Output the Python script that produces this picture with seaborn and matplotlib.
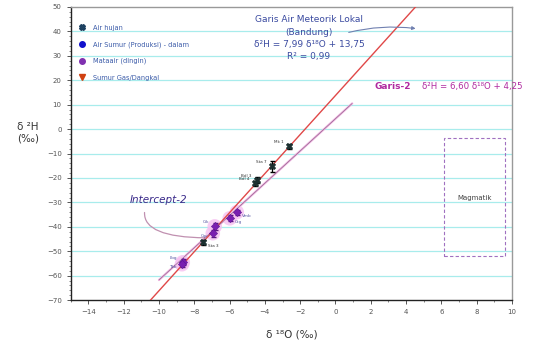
import numpy as np
import pandas as pd
import matplotlib
matplotlib.use("Agg")
import matplotlib.pyplot as plt
from matplotlib.patches import Rectangle
from matplotlib.ticker import MultipleLocator
import seaborn as sns

sns.set_theme(style="white")
plt.rcParams['font.family'] = ['DejaVu Sans']

# ---- data ----
hujan_x = [-2.64, -3.6, -4.46, -4.57, -7.52]
hujan_y = [-7.0, -15.2, -20.9, -22.1, -46.3]
hujan_err = [1.0, 2.2, 1.2, 1.0, 1.0]
hujan_lbl = ["Mk 1", "Sta 7", "Bdl 3", "Bdl 4", "Sta 3"]
hujan_side = ["l", "l", "l", "l", "r"]

mata_x = [-5.59, -5.99, -6.84, -6.95, -8.65, -8.7]
mata_y = [-34.0, -36.5, -39.8, -42.6, -54.5, -55.3]
mata_err = [1.0, 1.2, 1.5, 1.5, 1.2, 1.2]
mata_lbl = ["Vmb", "Ctg", "Cik", "Cip", "Lbg", "Tkb"]
mata_side = ["r", "r", "l", "l", "l", "l"]

gmwl_slope, gmwl_icpt = 7.99, 13.75
g2_slope, g2_icpt = 6.60, 4.25
g2_range = [-10.0, 0.95]

mag_x = [6.15, 9.6]
mag_y = [-52.0, -3.7]

xticks = [-14, -12, -10, -8, -6, -4, -2, 0, 2, 4, 6, 8, 10]
yticks = [50, 40, 30, 20, 10, 0, -10, -20, -30, -40, -50, -60, -70]

legend_names = ["Air hujan", "Air Sumur (Produksi) - dalam", "Mataair (dingin)", "Sumur Gas/Dangkal"]

# ---- figure ----
fig = plt.figure(figsize=(5.4, 3.47), dpi=100)
ax = fig.add_axes([0.131, 0.135, 0.817, 0.845])
ax.set_xlim(-15, 10)
ax.set_ylim(-70, 50)

for yv in yticks[1:-1]:
    ax.axhline(yv, color="#a8ecec", lw=0.9, zorder=0)

# meteoric line
xl = np.array([-15.0, 10.0])
df_m = pd.DataFrame({"x": xl, "y": gmwl_slope * xl + gmwl_icpt})
sns.lineplot(data=df_m, x="x", y="y", ax=ax, color="#e04848", lw=1.0, zorder=3)
# garis-2
xg = np.array(g2_range)
df_g = pd.DataFrame({"x": xg, "y": g2_slope * xg + g2_icpt})
sns.lineplot(data=df_g, x="x", y="y", ax=ax, color="#f0b0e0", lw=1.6, zorder=2)
sns.lineplot(data=df_g, x="x", y="y", ax=ax, color="#806080", lw=0.4, zorder=3)

# pink halos around spring points
df_mata = pd.DataFrame({"x": mata_x, "y": mata_y})
sns.scatterplot(data=df_mata, x="x", y="y", ax=ax, s=110, color="#f6c0f0",
                edgecolor="none", alpha=0.8, zorder=2, legend=False)

# error bars
ax.errorbar(hujan_x, hujan_y, yerr=hujan_err, fmt="none", ecolor="black",
            elinewidth=0.9, capsize=1.8, zorder=4)
ax.errorbar(mata_x, mata_y, yerr=mata_err, fmt="none", ecolor="#5a1a80",
            elinewidth=0.9, capsize=1.8, zorder=4)

df_h = pd.DataFrame({"x": hujan_x, "y": hujan_y})
sns.scatterplot(data=df_h, x="x", y="y", ax=ax, marker="X", s=22, color="#1c3030",
                edgecolor="#1c3030", zorder=5, legend=False)
sns.scatterplot(data=df_mata, x="x", y="y", ax=ax, marker="D", s=18, color="#7a1fb0",
                edgecolor="#5a1090", zorder=5, legend=False)

def put_label(x, y, t, side, color):
    if side == "l":
        ax.text(x - 0.3, y + 0.8, t, fontsize=3, color=color, ha="right", va="bottom", zorder=6)
    else:
        ax.text(x + 0.3, y - 0.8, t, fontsize=3, color=color, ha="left", va="top", zorder=6)

for x, y, t, s in zip(hujan_x, hujan_y, hujan_lbl, hujan_side):
    put_label(x, y, t, s, "#333333")
for i, (x, y, t, s) in enumerate(zip(mata_x, mata_y, mata_lbl, mata_side)):
    if i == 5:
        ax.text(x - 0.3, y - 0.5, t, fontsize=3, color="#5050a0", ha="right", va="top", zorder=6)
    elif i == 3:
        ax.text(x - 0.3, y - 0.5, t, fontsize=3, color="#5050a0", ha="right", va="top", zorder=6)
    else:
        put_label(x, y, t, s, "#5050a0")

# Magmatik box
ax.add_patch(Rectangle((mag_x[0], mag_y[0]), mag_x[1] - mag_x[0], mag_y[1] - mag_y[0],
                       fill=False, ls=(0, (3, 2)), lw=0.8, edgecolor="#a070c0", zorder=3))
ax.text(sum(mag_x) / 2, -28, "Magmatik", fontsize=5, color="#444444", ha="center", va="center")

# annotations
ax.text(-1.5, 46.5, "Garis Air Meteorik Lokal\n(Bandung)\nδ²H = 7,99 δ¹⁸O + 13,75\nR² = 0,99",
        fontsize=6.5, color="#3a4aa0", ha="center", va="top", linespacing=1.45)
ax.annotate("", xy=(4.7, 41.0), xytext=(0.6, 39.3),
            arrowprops=dict(arrowstyle="-|>", color="#7080b0", lw=0.8,
                            connectionstyle="arc3,rad=-0.1", mutation_scale=5))
ax.text(2.2, 17.6, "Garis-2", fontsize=6.5, color="#b02aa0", fontweight="bold", va="center")
ax.text(4.9, 17.6, "δ²H = 6,60 δ¹⁸O + 4,25", fontsize=6.2, color="#b02aa0", va="center")

ax.text(-10.0, -29.0, "Intercept-2", fontsize=7.5, color="#3a2a8a", style="italic",
        ha="center", va="center")
ax.annotate("", xy=(-7.2, -44.5), xytext=(-10.8, -33.0),
            arrowprops=dict(arrowstyle="-", color="#c090b0", lw=0.9,
                            connectionstyle="angle3,angleA=-100,angleB=0"))

# legend (manual)
leg_markers = ["X", "o", "o", "v"]
leg_colors = ["#1c4060", "#1010cc", "#8030b0", "#d04010"]
handles = [plt.Line2D([], [], ls="none", marker=m, color=c, markersize=4)
           for m, c in zip(leg_markers, leg_colors)]
leg = ax.legend(handles, legend_names, loc="upper left", frameon=False, fontsize=4.8,
                handletextpad=0.6, labelspacing=1.55, bbox_to_anchor=(0.0, 0.955),
                borderaxespad=0.3)
for t in leg.get_texts():
    t.set_color("#3a5aa8")

# axes styling
ax.set_xticks(xticks)
ax.set_yticks(yticks)
ax.xaxis.set_minor_locator(MultipleLocator(1))
ax.yaxis.set_minor_locator(MultipleLocator(2))
ax.tick_params(axis="both", which="major", labelsize=5, colors="#555555", length=3, width=0.7,
               direction="out", left=True, bottom=True)
ax.tick_params(axis="both", which="minor", length=1.5, width=0.5, colors="#555555",
               direction="out", left=True, bottom=True)
for side in ["left", "bottom"]:
    ax.spines[side].set_color("#222222")
    ax.spines[side].set_linewidth(1.0)
for side in ["top", "right"]:
    ax.spines[side].set_color("#999999")
    ax.spines[side].set_linewidth(1.0)
ax.set_xlabel("δ ¹⁸O (‰)", fontsize=7.5, color="#333333", labelpad=10)
ax.set_ylabel("δ ²H\n(‰)", fontsize=7.5, color="#333333", rotation=0, va="center")
ax.yaxis.set_label_coords(-0.097, 0.57)

fig.savefig("out.png", dpi=100)
